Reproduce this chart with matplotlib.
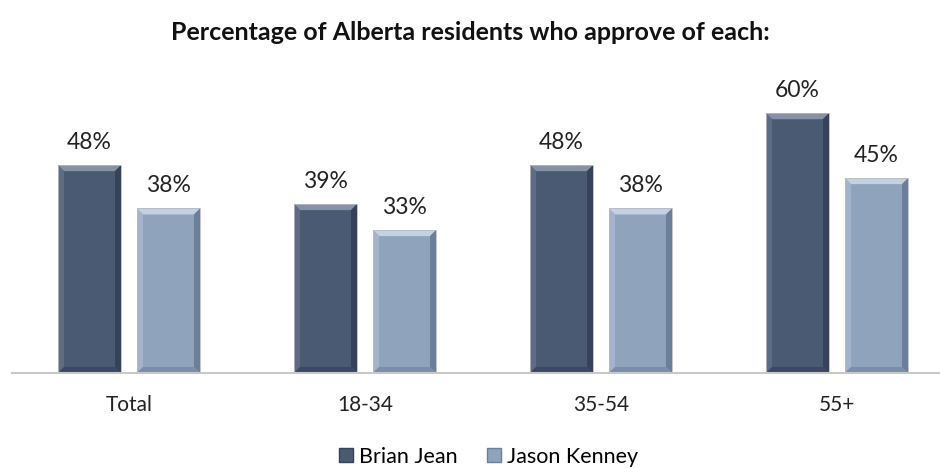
import matplotlib
matplotlib.use('Agg')
import matplotlib.pyplot as plt
from matplotlib.patches import Polygon, Rectangle
from matplotlib.lines import Line2D
import numpy as np

plt.rcParams['font.family'] = ['Lato', 'DejaVu Sans']

categories = ['Total', '18-34', '35-54', '55+']
brian_jean = [48, 39, 48, 60]
jason_kenney = [38, 33, 38, 45]
series_names = ['Brian Jean', 'Jason Kenney']

# face, top bevel, left bevel, right bevel, bottom bevel
dark = ['#4a5a72', '#8592a6', '#5d6c83', '#35425a', '#3b4862']
light = ['#8fa3bd', '#c3d1e3', '#a2b3ca', '#6c7f99', '#7a8ea9']

W, H = 940, 468
fig = plt.figure(figsize=(W / 100, H / 100), dpi=100)
base_px = 373
px_per_pct = 4.33
ax_left, ax_right = 12, 940
ax_h_px = 300
ax = fig.add_axes([ax_left / W, (H - base_px) / H, (ax_right - ax_left) / W, ax_h_px / H])
group_px = 236
x_start = -0.5 - (129 - 118 - ax_left) / group_px
ax.set_xlim(x_start, x_start + (ax_right - ax_left) / group_px)
ax.set_ylim(0, ax_h_px / px_per_pct)

x = np.arange(len(categories))
bw = 63 / group_px
off = (63 + 16) / 2 / group_px
bev_x = 6 / group_px
bev_y = 6 / px_per_pct


def bevel_bar(xc, h, cols):
    x0, x1 = xc - bw / 2, xc + bw / 2
    face, top, lft, rgt, bot = cols
    ax.add_patch(Rectangle((x0, 0), bw, h, facecolor=face, edgecolor='none'))
    ax.add_patch(Polygon([(x0, h), (x1, h), (x1 - bev_x, h - bev_y), (x0 + bev_x, h - bev_y)],
                         facecolor=top, edgecolor='none'))
    ax.add_patch(Polygon([(x0, 0), (x0, h), (x0 + bev_x, h - bev_y), (x0 + bev_x, bev_y)],
                         facecolor=lft, edgecolor='none'))
    ax.add_patch(Polygon([(x1, 0), (x1, h), (x1 - bev_x, h - bev_y), (x1 - bev_x, bev_y)],
                         facecolor=rgt, edgecolor='none'))
    ax.add_patch(Polygon([(x0, 0), (x1, 0), (x1 - bev_x, bev_y), (x0 + bev_x, bev_y)],
                         facecolor=bot, edgecolor='none'))
    ax.add_patch(Rectangle((x0, 0), bw, h, facecolor='none', edgecolor='#b8bcc4', linewidth=0.6))
    ax.text(xc, h + 16 / px_per_pct, '%d%%' % h, ha='center', va='baseline',
            fontsize=16.5, color='#222222')


for i in range(len(categories)):
    bevel_bar(x[i] - off, brian_jean[i], dark)
    bevel_bar(x[i] + off, jason_kenney[i], light)

for s in ['top', 'right', 'left']:
    ax.spines[s].set_visible(False)
ax.spines['bottom'].set_color('#c8c8c8')
ax.spines['bottom'].set_linewidth(1.5)
ax.set_yticks([])
ax.set_xticks(x)
ax.set_xticklabels(categories, fontsize=15, color='#222222')
ax.tick_params(axis='x', length=0, pad=15.5)

fig.text(0.5, 1 - 33 / H, 'Percentage of Alberta residents who approve of each:',
         ha='center', va='center', fontsize=18, fontweight='bold', color='#111111')

handles = [Line2D([], [], marker='s', linestyle='none', markersize=10,
                  markerfacecolor=dark[0], markeredgecolor=dark[3]),
           Line2D([], [], marker='s', linestyle='none', markersize=10,
                  markerfacecolor=light[0], markeredgecolor=light[3])]
fig.legend(handles, series_names, loc='center', bbox_to_anchor=(487 / W, 1 - 457 / H),
           ncol=2, frameon=False, fontsize=15.5, handletextpad=0.1, columnspacing=1.2,
           handlelength=1.0)

fig.savefig('out.png', dpi=100)
